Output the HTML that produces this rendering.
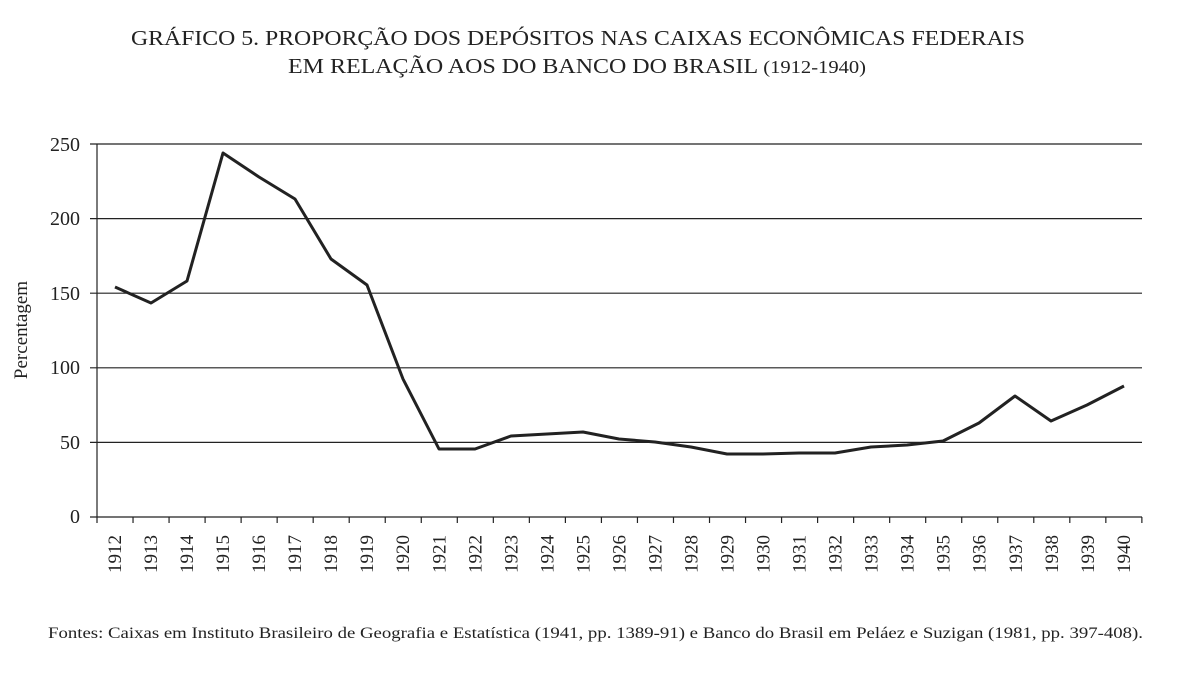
<!DOCTYPE html>
<html><head><meta charset="utf-8"><style>
html,body{margin:0;padding:0;background:#fff;}
svg{display:block;font-family:"Liberation Serif",serif;}
</style></head><body>
<svg width="1185" height="697" viewBox="0 0 1185 697" xmlns="http://www.w3.org/2000/svg">
<rect width="1185" height="697" fill="#fff"/>
<text x="131" y="45" font-size="21" fill="#222" textLength="894" lengthAdjust="spacingAndGlyphs">GRÁFICO 5. PROPORÇÃO DOS DEPÓSITOS NAS CAIXAS ECONÔMICAS FEDERAIS</text>
<text x="288" y="73" font-size="21" fill="#222" textLength="578" lengthAdjust="spacingAndGlyphs">EM RELAÇÃO AOS DO BANCO DO BRASIL <tspan font-size="18">(1912-1940)</tspan></text>
<g stroke="#222" stroke-width="1.2">
<line x1="90" y1="144" x2="1142" y2="144"/>
<line x1="90" y1="218.6" x2="1142" y2="218.6"/>
<line x1="90" y1="293.2" x2="1142" y2="293.2"/>
<line x1="90" y1="367.8" x2="1142" y2="367.8"/>
<line x1="90" y1="442.4" x2="1142" y2="442.4"/>
<line x1="90" y1="517" x2="1142" y2="517"/>
<line x1="97" y1="144" x2="97" y2="517"/>
</g>
<g font-size="20" fill="#222" text-anchor="end">
<text x="80" y="151">250</text><text x="80" y="225">200</text><text x="80" y="300">150</text>
<text x="80" y="374">100</text><text x="80" y="449">50</text><text x="80" y="523">0</text>
</g>
<text transform="translate(27,330) rotate(-90)" font-size="19" text-anchor="middle" fill="#222">Percentagem</text>
<g id="ticks" stroke="#222" stroke-width="1.2"></g>
<g id="labs" font-size="19" fill="#222"></g>
<polyline fill="none" stroke="#222" stroke-width="3" stroke-linejoin="round" points="115,287 151,303 187,281 223,153 259,177 295,199 331,259 367,285 403,379 439,449 475,449 511,436 547,434 583,432 619,439 655,442 691,447 727,454 763,454 799,453 835,453 871,447 907,445 943,441 979,423 1015,396 1051,421 1087,405 1124,386"/>
<text x="48" y="638" font-size="16" fill="#222" textLength="1095" lengthAdjust="spacingAndGlyphs">Fontes: Caixas em Instituto Brasileiro de Geografia e Estatística (1941, pp. 1389-91) e Banco do Brasil em Peláez e Suzigan (1981, pp. 397-408).</text>
<script>
var t=document.getElementById('ticks'),l=document.getElementById('labs'),ns='http://www.w3.org/2000/svg';
for(var i=0;i<=29;i++){var x=97+i*36.03;var e=document.createElementNS(ns,'line');e.setAttribute('x1',x);e.setAttribute('x2',x);e.setAttribute('y1',517);e.setAttribute('y2',523);t.appendChild(e);}
for(var i=0;i<29;i++){var cx=115+i*36.03;var e=document.createElementNS(ns,'text');e.setAttribute('transform','translate('+(cx+6)+',573) rotate(-90)');e.textContent=1912+i;l.appendChild(e);}
</script>
</svg>
</body></html>
